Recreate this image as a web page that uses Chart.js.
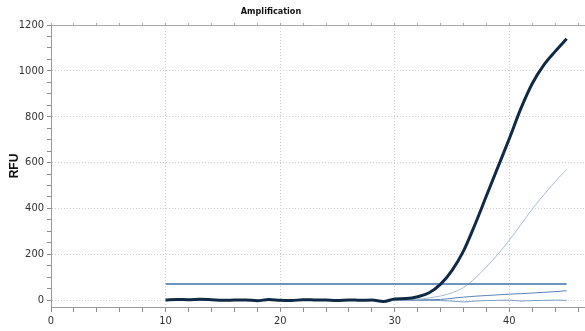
<!DOCTYPE html>
<html>
<head>
<meta charset="utf-8">
<script src="https://cdn.jsdelivr.net/npm/chart.js@4/dist/chart.umd.min.js"></script>
<style>
	html, body { margin: 0; padding: 0; background: #fff; }
	#wrap { width: 585px; height: 331px; }
</style>
</head>
<body>
<div id="wrap"><canvas id="amp-graph"></canvas></div>
<script>
'use strict';

const titleText = 'Amplification';
const yTitle = 'RFU';

const cycles = [10, 11, 12, 13, 14, 15, 16, 17, 18, 19, 20, 21, 22, 23, 24, 25, 26, 27,
	28, 29, 30, 31, 32, 33, 34, 35, 36, 37, 38, 39, 40, 41, 42, 43, 44, 45];

const strongWell = [0, 3, 2, 4, 2, -1, 0, 1, -3, 3, -1, -2, 2, 1, 0, -2, 1, -1,
	0, -6, 5, 7, 15, 32, 70, 130, 215, 330, 455, 580, 705, 835, 945, 1025, 1085, 1140];

const weakWell = [0, 1, 1, 2, 0, -1, 0, 1, -1, 1, 0, -1, 1, 0, 0, -1, 0, 0,
	-1, -2, 2, 3, 4, 10, 18, 32, 55, 95, 145, 200, 262, 329, 397, 459, 517, 570];

const lateWell = [0, 1, 0, 1, 0, -1, 0, 0, -1, 1, 0, -1, 0, 0, 0, -1, 0, 0,
	-1, -2, 1, 1, 1, 2, 3, 8, 13, 17, 20, 23, 26, 28, 31, 34, 37, 41];

const flatWell = [0, 1, 0, 1, 0, -1, 0, 1, -1, 0, 0, -1, 1, 0, 0, -1, 0, 0,
	-1, -2, 1, 0, -1, -1, -2, -4, -8, -4, -2, -1, 0, -4, -2, -1, 0, -1];

const thresholdCycles = [10, 45];
const thresholdValues = [70, 70];

const xTickLabels = [0, 10, 20, 30, 40];
const yTickLabels = [0, 200, 400, 600, 800, 1000, 1200];

const narrow = '"Liberation Sans Narrow", "Arial Narrow", "DejaVu Sans Condensed", sans-serif';
const tickFont = { family: narrow, size: 11 };

function points(xs, ys) {
	return xs.map((x, i) => ({ x: x, y: ys[i] }));
}

function minorTicks(from, to, step) {
	let arr = [];
	for (let v = from; v <= to + 1e-9; v += step) {
		arr.push({ value: v });
	}
	return arr;
}

const titlePlugin = {
	id: 'plotTitle',
	afterDraw(chart) {
		let ctx = chart.ctx;
		ctx.save();
		ctx.font = 'bold 9px ' + narrow;
		ctx.fillStyle = '#111';
		ctx.textAlign = 'center';
		ctx.textBaseline = 'middle';
		ctx.fillText(titleText, 271, 12);
		ctx.restore();
	}
};

function line(data, color, width) {
	return {
		data: data,
		borderColor: color,
		borderWidth: width,
		pointRadius: 0,
		fill: false,
		cubicInterpolationMode: 'monotone'
	};
}

let ctx = document.getElementById('amp-graph');
let chart = new Chart(ctx, {
	type: 'line',
	data: {
		datasets: [
			line(points(cycles, strongWell), '#102a46', 3),
			line(points(thresholdCycles, thresholdValues), '#3f70aa', 1.5),
			line(points(cycles, weakWell), '#a4bcd9', 1),
			line(points(cycles, lateWell), '#5a82b4', 1),
			line(points(cycles, flatWell), '#7a9cc6', 1)
		]
	},
	plugins: [titlePlugin],
	options: {
		responsive: true,
		maintainAspectRatio: false,
		animation: false,
		layout: { padding: { top: 25, left: 0, right: 0, bottom: 0 } },
		plugins: {
			legend: { display: false },
			tooltip: { enabled: false }
		},
		scales: {
			x: {
				type: 'linear',
				min: 0,
				max: 46.6,
				afterBuildTicks: (scale) => { scale.ticks = minorTicks(0, 46, 2); },
				afterFit: (scale) => { scale.height = 24; },
				ticks: {
					font: tickFont,
					color: '#333',
					padding: 3,
					maxRotation: 0,
					autoSkip: false,
					callback: (v) => xTickLabels.includes(v) ? String(v) : ''
				},
				grid: {
					color: (c) => (c.tick && c.tick.value % 10 === 0 && c.tick.value !== 0) ? '#cfcfcf' : 'rgba(0,0,0,0)',
					tickColor: '#8c8c8c',
					tickLength: 5,
					lineWidth: 1
				},
				border: { color: '#9a9a9a', width: 1, dash: [1, 2] }
			},
			x2: {
				type: 'linear',
				position: 'top',
				min: 0,
				max: 46.6,
				afterBuildTicks: (scale) => { scale.ticks = minorTicks(0, 46, 2); },
				afterFit: (scale) => { scale.height = 0; },
				ticks: { display: false },
				grid: { drawOnChartArea: false, tickColor: '#aaa', tickLength: 2 },
				border: { color: '#a8a8a8', width: 1 }
			},
			y: {
				type: 'linear',
				min: -30,
				max: 1200,
				afterBuildTicks: (scale) => { scale.ticks = minorTicks(0, 1200, 50); },
				afterFit: (scale) => { scale.width = 51; },
				ticks: {
					font: tickFont,
					color: '#333',
					padding: 3,
					autoSkip: false,
					callback: (v) => yTickLabels.includes(v) ? String(v) : ''
				},
				grid: {
					color: (c) => (c.tick && c.tick.value % 200 === 0 && c.tick.value !== 1200) ? '#cfcfcf' : 'rgba(0,0,0,0)',
					tickColor: '#8c8c8c',
					tickLength: 4,
					lineWidth: 1
				},
				border: { color: '#9a9a9a', width: 1, dash: [1, 2] },
				title: {
					display: true,
					text: yTitle,
					color: '#111',
					font: { family: '"Liberation Sans", Arial, sans-serif', size: 12, weight: 'bold' },
					padding: { top: 7, bottom: 0 }
				}
			}
		}
	}
});
</script>
</body>
</html>
